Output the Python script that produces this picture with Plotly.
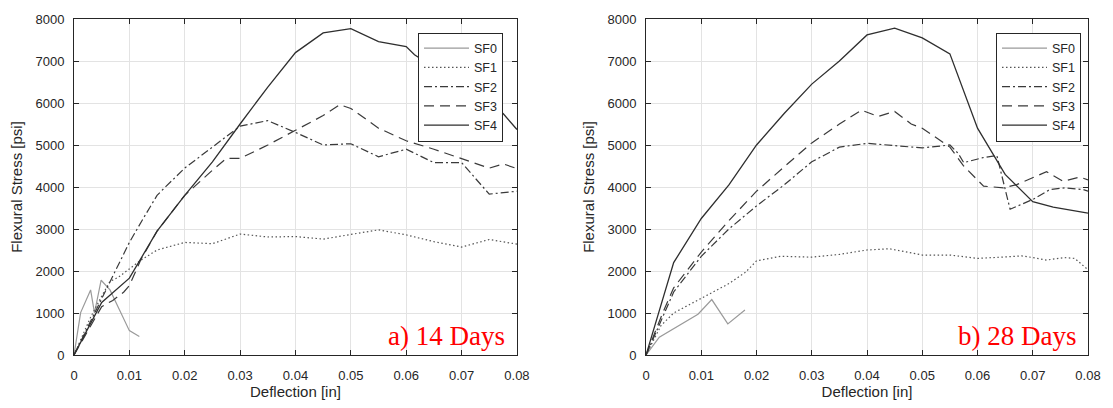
import plotly.graph_objects as go

# ---------------- data: a) 14 days ----------------
sf0_14_x = [0, 0.0012, 0.003, 0.0037, 0.0049, 0.0065, 0.01, 0.0118]
sf0_14_y = [0, 1010, 1550, 1000, 1780, 1550, 580, 440]

sf1_14_x = [0, 0.003, 0.005, 0.0065, 0.008, 0.01, 0.012, 0.015, 0.02, 0.025, 0.03, 0.035, 0.04,
            0.045, 0.05, 0.055, 0.06, 0.065, 0.07, 0.075, 0.08]
sf1_14_y = [0, 900, 1400, 1750, 1850, 2050, 2250, 2500, 2680, 2650, 2880, 2810, 2820,
            2760, 2870, 2980, 2860, 2700, 2570, 2750, 2640]

sf2_14_x = [0, 0.005, 0.01, 0.0125, 0.015, 0.0165, 0.02, 0.025, 0.03, 0.035, 0.04, 0.045,
            0.05, 0.055, 0.06, 0.065, 0.07, 0.075, 0.08]
sf2_14_y = [0, 1350, 2680, 3250, 3800, 4000, 4450, 4950, 5450, 5580, 5300, 5000,
            5030, 4720, 4900, 4580, 4580, 3830, 3900]

sf3_14_x = [0, 0.005, 0.007, 0.009, 0.01, 0.012, 0.015, 0.02, 0.025, 0.0275, 0.03, 0.035, 0.04,
            0.045, 0.048, 0.05, 0.055, 0.06, 0.065, 0.07, 0.075, 0.0775, 0.08]
sf3_14_y = [0, 1150, 1300, 1500, 1650, 2250, 2950, 3800, 4400, 4680, 4680, 5000, 5350,
            5700, 5960, 5870, 5400, 5100, 4900, 4680, 4450, 4550, 4440]

sf4_14_x = [0, 0.005, 0.01, 0.015, 0.02, 0.025, 0.03, 0.035, 0.04, 0.045, 0.05, 0.055, 0.06,
            0.0615, 0.065, 0.07, 0.075, 0.0775, 0.08]
sf4_14_y = [0, 1250, 1830, 2950, 3800, 4600, 5500, 6380, 7200, 7670, 7770, 7460, 7345,
            7150, 6850, 6400, 5980, 5750, 5370]

# ---------------- data: b) 28 days ----------------
sf0_28_x = [0, 0.0024, 0.0094, 0.0119, 0.0148, 0.0179]
sf0_28_y = [0, 425, 970, 1320, 740, 1070]

sf1_28_x = [0, 0.0027, 0.005, 0.01, 0.015, 0.018, 0.02, 0.0243, 0.03, 0.035, 0.04, 0.044,
            0.05, 0.055, 0.06, 0.065, 0.068, 0.07, 0.0725, 0.0757, 0.0776, 0.08]
sf1_28_y = [0, 700, 1000, 1350, 1700, 1970, 2240, 2350, 2330, 2395, 2500, 2530,
            2380, 2380, 2300, 2335, 2360, 2320, 2260, 2320, 2300, 2030]

sf2_28_x = [0, 0.003, 0.005, 0.01, 0.015, 0.02, 0.025, 0.03, 0.035, 0.04, 0.045, 0.05, 0.055,
            0.0565, 0.0575, 0.061, 0.0635, 0.0659, 0.0701, 0.0731, 0.0758, 0.0791, 0.08]
sf2_28_y = [0, 900, 1500, 2350, 3000, 3550, 4050, 4600, 4950, 5040, 4990, 4930, 5000,
            4800, 4580, 4700, 4750, 3470, 3710, 3940, 3980, 3940, 3900]

sf3_28_x = [0, 0.003, 0.005, 0.01, 0.015, 0.02, 0.025, 0.03, 0.035, 0.039, 0.042, 0.045, 0.048,
            0.05, 0.055, 0.0575, 0.0611, 0.0647, 0.0671, 0.0725, 0.0755, 0.0785, 0.08]
sf3_28_y = [0, 1000, 1600, 2450, 3200, 3900, 4480, 5050, 5500, 5830, 5680, 5800, 5500,
            5400, 4950, 4500, 4020, 3980, 4057, 4364, 4134, 4235, 4170]

sf4_28_x = [0, 0.0025, 0.005, 0.01, 0.015, 0.02, 0.025, 0.03, 0.035, 0.04, 0.045, 0.05, 0.055,
            0.06, 0.065, 0.07, 0.0737, 0.08]
sf4_28_y = [0, 1100, 2200, 3250, 4050, 5000, 5750, 6450, 7000, 7620, 7780, 7550, 7170,
            5400, 4300, 3650, 3520, 3380]

series_names = ["SF0", "SF1", "SF2", "SF3", "SF4"]
x_ticks = [0, 0.01, 0.02, 0.03, 0.04, 0.05, 0.06, 0.07, 0.08]
x_tick_labels = ["0", "0.01", "0.02", "0.03", "0.04", "0.05", "0.06", "0.07", "0.08"]
y_ticks = [0, 1000, 2000, 3000, 4000, 5000, 6000, 7000, 8000]
panel_labels = ["a) 14 Days", "b) 28 Days"]

# ---------------- styles ----------------
styles = {
    "SF0": dict(color="#9a9a9a", dash="solid", width=1.2),
    "SF1": dict(color="#555555", dash="1.5px,2.5px", width=1.2),
    "SF2": dict(color="#3a3a3a", dash="8px,3px,2px,3px", width=1.2),
    "SF3": dict(color="#3a3a3a", dash="10px,6px", width=1.2),
    "SF4": dict(color="#2e2e2e", dash="solid", width=1.3),
}

data14 = [(sf0_14_x, sf0_14_y), (sf1_14_x, sf1_14_y), (sf2_14_x, sf2_14_y),
          (sf3_14_x, sf3_14_y), (sf4_14_x, sf4_14_y)]
data28 = [(sf0_28_x, sf0_28_y), (sf1_28_x, sf1_28_y), (sf2_28_x, sf2_28_y),
          (sf3_28_x, sf3_28_y), (sf4_28_x, sf4_28_y)]

fig = go.Figure()
for name, (xs, ys) in zip(series_names, data14):
    fig.add_trace(go.Scatter(x=xs, y=ys, mode="lines", name=name, line=styles[name],
                             xaxis="x", yaxis="y", legend="legend"))
for name, (xs, ys) in zip(series_names, data28):
    fig.add_trace(go.Scatter(x=xs, y=ys, mode="lines", name=name, line=styles[name],
                             xaxis="x2", yaxis="y2", legend="legend2"))

FONT = "Liberation Sans, Arial, sans-serif"
TXT = "#262626"
AX = "#262626"

def xaxis_cfg(domain, anchor):
    return dict(domain=domain, anchor=anchor, range=[0, 0.08], tickvals=x_ticks,
                ticktext=x_tick_labels, showline=True, linecolor=AX, linewidth=1,
                mirror="ticks", ticks="inside", ticklen=5, tickcolor=AX,
                showgrid=True, gridcolor="#e3e3e3", gridwidth=1, zeroline=False,
                tickfont=dict(family=FONT, size=13, color=TXT), ticklabelstandoff=8,
                title=dict(text="Deflection [in]", font=dict(family=FONT, size=15, color=TXT),
                           standoff=3))

def yaxis_cfg(anchor):
    return dict(domain=[0, 1], anchor=anchor, range=[0, 8000], tickvals=y_ticks,
                showline=True, linecolor=AX, linewidth=1,
                mirror="ticks", ticks="inside", ticklen=5, tickcolor=AX,
                showgrid=True, gridcolor="#e3e3e3", gridwidth=1, zeroline=False,
                tickfont=dict(family=FONT, size=13, color=TXT), ticklabelstandoff=6,
                title=dict(text="Flexural Stress [psi]", font=dict(family=FONT, size=15, color=TXT),
                           standoff=9))

legend_common = dict(yanchor="top", xanchor="right", bgcolor="white", bordercolor=AX,
                     borderwidth=1, font=dict(family=FONT, size=12.5, color=TXT),
                     itemwidth=45, tracegroupgap=0)

fig.update_layout(
    width=1113, height=408,
    margin=dict(l=74, r=18, t=14, b=47),
    paper_bgcolor="white", plot_bgcolor="white",
    xaxis=xaxis_cfg([0, 0.43683], "y"),
    yaxis=yaxis_cfg("x"),
    xaxis2=xaxis_cfg([0.56415, 1], "y2"),
    yaxis2=yaxis_cfg("x2"),
    legend=dict(x=0.4231, y=0.9597, **legend_common),
    legend2=dict(x=0.9931, y=0.9597, **legend_common),
    font=dict(family=FONT, color=TXT),
)

for i, (lab, xr, yr) in enumerate([(panel_labels[0], "x domain", "y domain"),
                                   (panel_labels[1], "x2 domain", "y2 domain")]):
    fig.add_annotation(text=lab, xref=xr, yref=yr, x=1, y=0, xanchor="right", yanchor="bottom",
                       xshift=-10, yshift=2, showarrow=False,
                       font=dict(family="Liberation Serif, Times New Roman, serif", size=27,
                                 color="#ff0000"))

fig.write_html("out.html")
